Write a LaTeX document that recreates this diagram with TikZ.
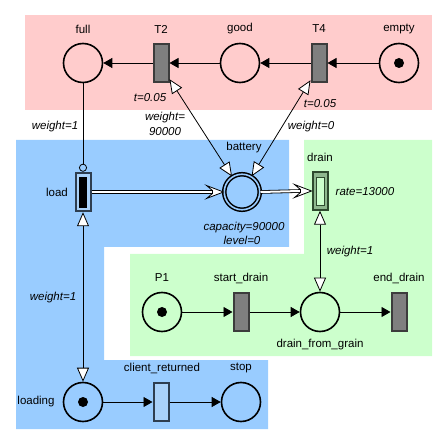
\documentclass[tikz,border=0pt]{standalone}
\usepackage{fontspec}
\setmainfont{Liberation Sans}
\usetikzlibrary{arrows.meta,calc}
\definecolor{pinkbg}{HTML}{FFCCCC}
\definecolor{bluebg}{HTML}{99CCFF}
\definecolor{greenbg}{HTML}{CCFFCC}
\definecolor{transgray}{HTML}{7F7F7F}
\definecolor{transborder}{HTML}{3C3C3C}
\definecolor{lightblue}{HTML}{AAD2FA}
\definecolor{darkslate}{HTML}{2E3E50}
\definecolor{midgreen}{HTML}{8FB88F}
\definecolor{darkgreen}{HTML}{2E4A2E}
\begin{document}
\begin{tikzpicture}[x=1pt,y=-1pt,
  font=\fontsize{11.5}{13}\selectfont,
  place/.style={circle,draw=black,line width=1.6pt,minimum size=39pt,inner sep=0pt},
  token/.style={circle,fill=black,minimum size=10pt,inner sep=0pt},
  trans/.style={rectangle,draw=transborder,fill=transgray,line width=2pt,minimum width=15pt,minimum height=38.5pt,inner sep=0pt},
  lbl/.style={inner sep=0pt},
  ilbl/.style={inner sep=0pt,font=\fontsize{11.5}{13}\selectfont\itshape},
  arc/.style={line width=0.8pt,-{Triangle[length=9pt,width=10pt]}},
  testarc/.style={line width=0.8pt,{Triangle[fill=white,length=14pt,width=12pt]}-{Triangle[fill=white,length=14pt,width=12pt]}},
  dbl/.style={draw=black,line width=0.8pt,double=white,double distance=2pt},
  dblhead/.style={draw=black,line width=0.8pt,fill=white,line join=miter}
]
\useasboundingbox (0,0) rectangle (447,446);
% backgrounds
\fill[pinkbg] (25,15) rectangle (432,110);
\fill[bluebg] (16,140) -- (289,140) -- (289,247) -- (104,247) -- (104,360) -- (268,360) -- (268,429) -- (16,429) -- cycle;
\fill[greenbg] (304,140) -- (432,140) -- (432,356) -- (130,356) -- (130,254) -- (304,254) -- cycle;

% top row
\node[place] (full) at (83,63) {};
\node[trans] (T2) at (161,63) {};
\node[place] (good) at (240,63) {};
\node[trans] (T4) at (319,63) {};
\node[place] (empty) at (399,63) {};
\node[token] (emptytok) at (399,63) {};

% middle
\node[rectangle,draw=darkslate,fill=lightblue,line width=2pt,minimum width=15pt,minimum height=38.5pt,inner sep=0pt] (load) at (83,192) {};
\node[rectangle,draw=lightblue,fill=black,line width=0.6pt,minimum width=9pt,minimum height=32pt,inner sep=0pt] (loadin) at (83,192) {};
\node[circle,draw=black,double=bluebg,double distance=1.6pt,line width=1.5pt,minimum size=35.5pt,inner sep=0pt] (battery) at (242,192) {};
\node[rectangle,draw=darkgreen,fill=midgreen,line width=2pt,minimum width=15pt,minimum height=37.5pt,inner sep=0pt] (drain) at (320,191) {};
\node[rectangle,draw=darkgreen,fill=greenbg,line width=0.8pt,minimum width=8pt,minimum height=28pt,inner sep=0pt] (drainin) at (320,191) {};

% green row
\node[place] (P1) at (162,312) {};
\node[token] (P1tok) at (162,312) {};
\node[trans] (sd) at (241,312) {};
\node[place] (dfg) at (320,312) {};
\node[trans] (ed) at (399,312) {};

% bottom row
\node[place] (loading) at (83,402) {};
\node[token] (loadingtok) at (83,402) {};
\node[trans,draw=darkslate,fill=lightblue] (cr) at (161,402) {};
\node[place] (stop) at (241,402) {};

% labels
\node[lbl] (lfull) at (83,29) {full};
\node[lbl] (lT2) at (161,29) {T2};
\node[lbl] (lgood) at (240,29) {good};
\node[lbl] (lT4) at (319,29) {T4};
\node[lbl] (lempty) at (399,29) {empty};
\node[ilbl] (tT2) at (150,98) {t=0.05};
\node[ilbl] (tT4) at (320,104) {t=0.05};
\node[ilbl] (w1a) at (55,127) {weight=1};
\node[ilbl] (w9a) at (165,118) {weight=};
\node[ilbl] (w9b) at (165,132) {90000};
\node[ilbl] (w0) at (311,127) {weight=0};
\node[lbl] (lbat) at (244,148) {battery};
\node[ilbl] (lcap) at (244,228) {capacity=90000};
\node[ilbl] (llev) at (242,240) {level=0};
\node[lbl] (lload) at (57,192) {load};
\node[lbl] (ldrain) at (320,157) {drain};
\node[ilbl] (lrate) at (365,192) {rate=13000};
\node[ilbl] (w1b) at (350,252) {weight=1};
\node[lbl] (lP1) at (162,278) {P1};
\node[lbl] (lsd) at (241,278) {start\_drain};
\node[lbl] (led) at (399,278) {end\_drain};
\node[lbl] (ldfg) at (320,345) {drain\_from\_grain};
\node[ilbl] (w1c) at (53,298) {weight=1};
\node[lbl] (lloading) at (36,402) {loading};
\node[lbl] (lcr) at (162,368) {client\_returned};
\node[lbl] (lstop) at (241,368) {stop};

% arcs
\draw[arc] (empty) -- (T4);
\draw[arc] (T4) -- (good);
\draw[arc] (good) -- (T2);
\draw[arc] (T2) -- (full);
\draw[arc] (P1) -- (sd);
\draw[arc] (sd) -- (dfg);
\draw[arc] (dfg) -- (ed);
\draw[arc] (loading) -- (cr);
\draw[arc] (cr) -- (stop);
\draw[line width=0.8pt,-{Circle[open,length=8pt,width=8pt]}] (full) -- (load.north);
\draw[testarc] (loading) -- (load.south);
\draw[testarc] (dfg) -- (drain.south);
\coordinate (T2tip) at ($(T2.east)!0.8!(T2.south east)$);
\coordinate (T4tip) at ($(T4.west)!0.85!(T4.south west)$);
\draw[testarc] (battery) -- (T2tip);
\draw[testarc] (battery) -- (T4tip);

% double arcs
\draw[dbl] (load.east) -- ([xshift=-11pt]battery.west);
\draw[dblhead] (battery.west) -- ++(-17,-6.5) -- ++(6,5) -- ++(0,3) -- ++(-6,5) -- cycle;
\draw[dbl] (battery.east) -- ([xshift=-11pt]drain.west);
\draw[dblhead] (drain.west) -- ++(-17,-6.5) -- ++(6,5) -- ++(0,3) -- ++(-6,5) -- cycle;
\end{tikzpicture}
\end{document}
